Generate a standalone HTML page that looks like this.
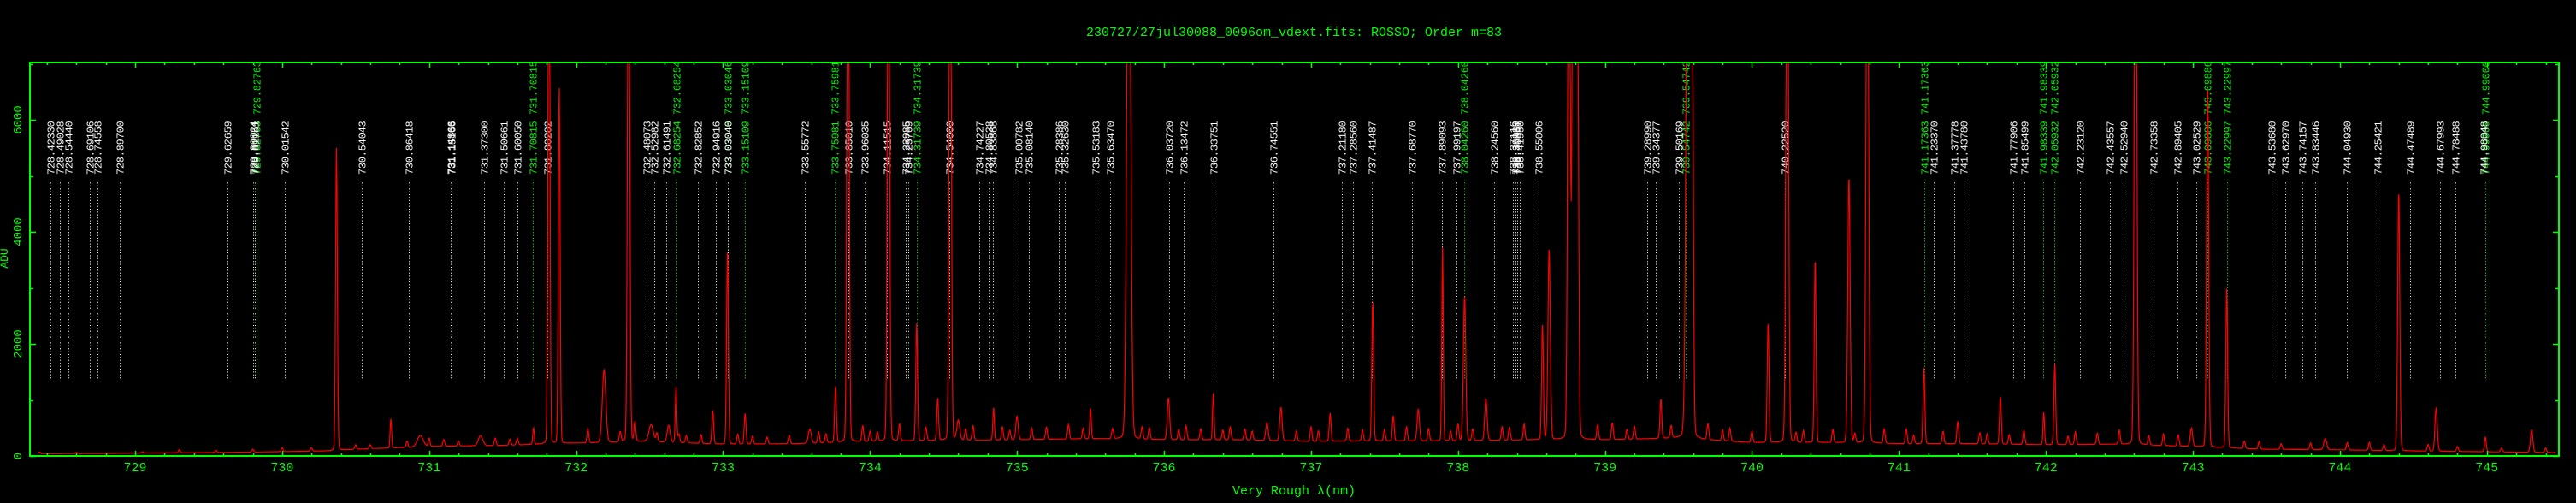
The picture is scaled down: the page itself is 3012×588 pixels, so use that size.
<!DOCTYPE html>
<html>
<head>
<meta charset="utf-8">
<style>
html,body{margin:0;padding:0;background:#000;}
svg{display:block;}
</style>
</head>
<body>
<svg id="chart" xmlns="http://www.w3.org/2000/svg" width="3012" height="588" viewBox="0 0 3012 588">
<rect x="0" y="0" width="3012" height="588" fill="#000"/>
<defs><clipPath id="plotclip"><rect x="36" y="73" width="2955" height="460"/></clipPath></defs>
<text x="1513" y="42" fill="#00ff00" font-family="Liberation Mono, monospace" font-size="15" text-anchor="middle">230727/27jul30088_0096om_vdext.fits: ROSSO; Order m=83</text>
<text x="1513" y="578" fill="#00ff00" font-family="Liberation Mono, DejaVu Sans Mono, monospace" font-size="15" text-anchor="middle">Very Rough λ(nm)</text>
<text transform="translate(9,302) rotate(-90)" fill="#00ff00" font-family="Liberation Mono, monospace" font-size="13" text-anchor="middle">ADU</text>
<g id="lines"></g>
<g id="spec" clip-path="url(#plotclip)"></g>
<g id="axes"></g>
</svg>
<script>
// ---- data ----
const xDomain = [728.284, 745.49];
const yDomain = [0, 7023];
const xTickValues = [729,730,731,732,733,734,735,736,737,738,739,740,741,742,743,744,745];
const yTickValues = [0,2000,4000,6000];
const whiteLines = [728.42330,728.49028,728.54440,728.69106,728.74558,728.89700,729.62659,729.80024,729.81151,730.01542,730.54043,730.86418,731.14866,731.15166,731.37300,731.50661,731.60050,731.80202,732.48073,732.52982,732.61491,732.82852,732.94916,733.03040,733.55772,733.85010,733.96035,734.11515,734.23985,734.25769,734.54000,734.74227,734.80538,734.83868,735.00782,735.08140,735.28386,735.32630,735.53183,735.63470,736.03720,736.13472,736.33751,736.74551,737.21180,737.28560,737.41487,737.68770,737.89093,737.99197,738.24560,738.37116,738.38930,738.40051,738.41950,738.55006,739.28990,739.34377,739.50169,740.22520,741.23370,741.37778,741.43780,741.77906,741.85499,742.23120,742.43557,742.52940,742.73358,742.89405,743.02529,743.53680,743.62970,743.74157,743.83446,744.04930,744.25421,744.47489,744.67993,744.78488,744.98048];
const greenLines = [729.82763,731.70815,732.68254,733.03046,733.15109,733.75981,734.31739,738.04260,739.54742,741.17363,741.98339,742.05932,743.09886,743.22997,744.99000];
const contWl  = [728.3,728.8,729.3,729.8,730.3,730.5,731.0,731.5,732.0,732.5,733.0,733.5,734.0,734.5,735.0,735.5,736.0,736.5,737.0,737.5,738.0,738.5,739.0,739.5,740.0,740.5,741.0,741.5,742.0,742.5,743.0,743.5,744.0,744.5,745.0,745.5];
const contVal = [40,45,55,70,90,120,170,190,230,260,210,220,260,280,290,310,290,290,260,270,270,290,290,320,240,240,220,220,200,210,170,120,110,90,75,60];
const peakWl  = [730.37,730.74,730.94,731.35,731.71,731.815,731.885,732.19,732.357,732.51,732.63,732.68,732.93,733.03,733.15,733.59,733.765,733.85,734.125,734.317,734.46,734.545,734.6,734.84,735.0,735.5,735.76,736.03,736.335,736.7,736.795,737.13,737.42,737.56,737.73,737.895,738.045,738.19,738.575,738.62,738.755,738.785,738.81,739.38,739.565,739.59,740.11,740.24,740.43,740.66,740.785,741.17,741.4,741.69,741.985,742.06,742.61,742.99,743.10,743.23,743.9,744.40,744.655,744.99,745.305];
const peakVal = [5400,520,200,180,300,12000,6380,1300,12000,300,300,1000,600,3500,550,250,1000,12000,12000,2100,750,12000,350,580,420,550,12000,750,850,320,600,500,2500,450,560,3450,2600,750,2050,3400,12000,12000,12000,700,12000,12000,2150,12000,3300,4750,12000,1350,400,850,580,1450,12000,330,6500,2850,200,4650,780,260,400];
const peakWid = [0.006,0.005,0.02,0.015,0.005,0.006,0.006,0.012,0.007,0.015,0.01,0.005,0.006,0.006,0.006,0.01,0.006,0.007,0.007,0.006,0.006,0.007,0.01,0.005,0.008,0.005,0.012,0.008,0.005,0.008,0.008,0.006,0.006,0.006,0.008,0.005,0.008,0.008,0.006,0.008,0.008,0.008,0.008,0.006,0.012,0.008,0.006,0.008,0.006,0.008,0.008,0.006,0.006,0.006,0.005,0.006,0.008,0.008,0.007,0.006,0.01,0.007,0.008,0.006,0.008];
const minorWl  = [728.35,728.6,729.05,729.3,729.55,729.8,730.0,730.2,730.5,730.6,730.85,731.0,731.1,731.2,731.45,731.55,731.6,732.08,732.4,732.55,732.75,732.85,733.1,733.3,733.45,733.65,733.95,734.05,734.2,734.38,734.7,734.9,735.1,735.2,735.35,735.65,735.9,736.15,736.25,736.45,736.55,736.9,737.0,737.25,737.35,737.65,737.8,738.0,738.3,738.45,738.95,739.05,739.2,739.7,739.85,740.0,740.35,740.55,740.9,741.05,741.3,741.55,741.85,742.2,742.35,742.5,742.8,742.9,743.35,743.6,743.8,744.05,744.2,744.3,744.6,744.8,745.1,745.4,732.3,732.7,733.2,733.7,734.0,734.65,734.95,735.45,735.85,736.1,736.4,736.6,737.05,737.5,737.95,738.1,738.35,739.15,739.45,739.8,740.3,740.7,741.1,741.6,741.75,742.15,742.7,743.45];
const minorVal = [30,20,25,60,40,50,70,60,80,70,110,150,120,90,130,110,120,250,350,150,130,160,180,120,150,200,280,160,300,240,260,230,200,220,260,180,210,250,200,230,200,180,260,230,200,250,220,300,240,280,260,300,230,280,230,200,210,230,250,260,220,200,250,230,200,250,210,200,130,100,120,130,140,100,120,90,70,80,180,150,140,160,180,200,170,190,210,180,170,160,190,200,170,210,230,180,220,190,170,160,150,180,170,150,160,130];

// ---- scales ----
const X0 = 35, X1 = 2992, Y0 = 533, Y1 = 73;
function xScale(l){ return X0 + (l - xDomain[0]) / (xDomain[1] - xDomain[0]) * (X1 - X0); }
function yScale(v){ return Y0 - (v - yDomain[0]) / (yDomain[1] - yDomain[0]) * (Y0 - Y1); }
const NS = 'http://www.w3.org/2000/svg';
function mk(tag, attrs, parent){ const e = document.createElementNS(NS, tag); for (const k in attrs) e.setAttribute(k, attrs[k]); parent.appendChild(e); return e; }

// ---- line list ----
const gl = document.getElementById('lines');
function drawLine(l, color, topLabel){
  const x = Math.round(xScale(l)) + 0.5;
  const ln = mk('line', {x1:x, y1:210, x2:x, y2:443, stroke:color, 'stroke-width':1, 'stroke-dasharray':'1 2.4'}, gl);
  
  
  const t = mk('text', {transform:'translate(' + (x + 4) + ',204) rotate(-90)', fill:color, 'font-family':'Liberation Mono, monospace', 'font-size':'11.6'}, gl);
  t.textContent = l.toFixed(5);
  
  
  if (topLabel){
    const t2 = mk('text', {transform:'translate(' + (x + 4) + ',134) rotate(-90)', fill:color, 'font-family':'Liberation Mono, monospace', 'font-size':'11.6'}, gl);
    t2.textContent = l.toFixed(5);
    
    
  }
}
greenLines.forEach(l => drawLine(l, '#00ff00', true));
whiteLines.forEach(l => drawLine(l, '#ffffff', false));

// ---- spectrum ----
function cont(l){
  if (l <= contWl[0]) return contVal[0];
  for (let i = 1; i < contWl.length; i++){
    if (l <= contWl[i]){ const f = (l - contWl[i-1]) / (contWl[i] - contWl[i-1]); return contVal[i-1] + f * (contVal[i] - contVal[i-1]); }
  }
  return contVal[contVal.length - 1];
}
function flux(l){
  let v = cont(l);
  for (let i = 0; i < peakWl.length; i++){
    const d = (l - peakWl[i]) / peakWid[i];
    if (Math.abs(d) < 30) v += peakVal[i] * (Math.exp(-0.5 * d * d) * 0.94 + 0.06 / (1 + d * d));
  }
  for (let i = 0; i < minorWl.length; i++){
    const d = (l - minorWl[i]) / 0.006;
    if (Math.abs(d) < 6) v += minorVal[i] * Math.exp(-0.5 * d * d);
  }
  return v;
}
const sg = document.getElementById('spec');
let d = '';
const lStart = 728.34, lEnd = 745.47, step = 0.5 / 171.9;
for (let l = lStart; l <= lEnd; l += step){
  const px = xScale(l).toFixed(1);
  let py = yScale(flux(l));
  if (py < 60) py = 60;
  d += (d ? 'L' : 'M') + px + ' ' + py.toFixed(1);
}
const sp = mk('path', {d:d, fill:'none', stroke:'#ff0000', 'stroke-width':1.2, 'stroke-linejoin':'miter'}, sg);



// ---- axes ----
const ag = document.getElementById('axes');
const frame = mk('rect', {x:X0, y:Y1, width:X1 - X0, height:Y0 - Y1, fill:'none', stroke:'#00ff00', 'stroke-width':2}, ag);


for (let k = Math.ceil(xDomain[0] * 5); k <= Math.floor(xDomain[1] * 5); k++){
  const l = k / 5;
  const major = (k % 5 === 0);
  const x = Math.round(xScale(l)) + 0.5;
  const len = major ? 6 : 3;
  const tb = mk('line', {x1:x, y1:Y0, x2:x, y2:Y0 - len, stroke:'#00ff00', 'stroke-width':1.5}, ag);
  
  
  const tt = mk('line', {x1:x, y1:Y1, x2:x, y2:Y1 + len, stroke:'#00ff00', 'stroke-width':1.5}, ag);
  
  
}
xTickValues.forEach(v => {
  const t = mk('text', {x:xScale(v), y:551, fill:'#00ff00', 'font-family':'Liberation Mono, monospace', 'font-size':'15', 'text-anchor':'middle'}, ag);
  t.textContent = String(v);
  
  
});
for (let v = 0; v <= 7000; v += 1000){
  const y = Math.round(yScale(v)) + 0.5;
  const len = (v % 2000 === 0) ? 7 : 4;
  const tl = mk('line', {x1:X0, y1:y, x2:X0 + len, y2:y, stroke:'#00ff00', 'stroke-width':1.5}, ag);
  
  
  const tr = mk('line', {x1:X1, y1:y, x2:X1 - len, y2:y, stroke:'#00ff00', 'stroke-width':1.5}, ag);
  
  
}
yTickValues.forEach(v => {
  const t = mk('text', {transform:'translate(25,' + yScale(v) + ') rotate(-90)', fill:'#00ff00', 'font-family':'Liberation Mono, monospace', 'font-size':'14', 'text-anchor':'middle'}, ag);
  t.textContent = String(v);
  
  
});
</script>
</body>
</html>
